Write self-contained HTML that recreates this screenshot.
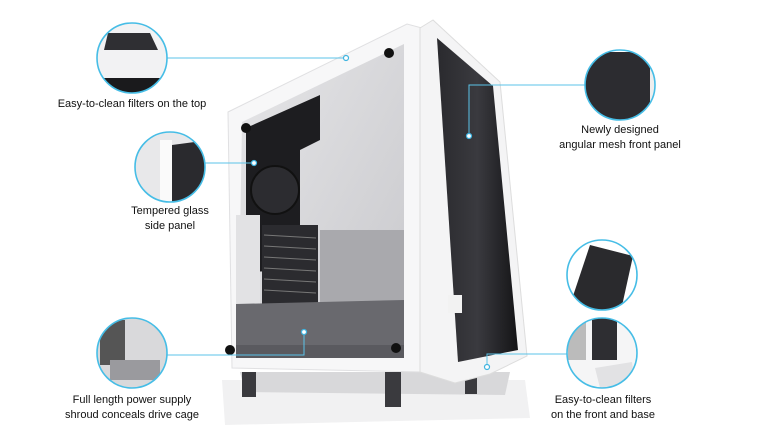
<!DOCTYPE html>
<html><head><meta charset="utf-8"><style>
html,body{margin:0;padding:0;background:#fff;}
body{width:778px;height:434px;overflow:hidden;position:relative;font-family:"Liberation Sans",Arial,sans-serif;}
.t{position:absolute;font-size:11px;color:#111;text-align:center;line-height:15px;white-space:nowrap;transform:translateX(-50%);}
svg{position:absolute;left:0;top:0;}
</style></head><body>
<svg width="778" height="434" viewBox="0 0 778 434">
<defs>
<linearGradient id="gl" x1="0" y1="0" x2="1" y2="1">
<stop offset="0" stop-color="#e6e6e8"/><stop offset="1" stop-color="#c8c8cc"/></linearGradient>
<linearGradient id="fr" x1="0" y1="0" x2="1" y2="0">
<stop offset="0" stop-color="#2a2a2e"/><stop offset="0.5" stop-color="#3a3a3f"/><stop offset="1" stop-color="#141416"/></linearGradient>
<clipPath id="c1"><circle cx="132" cy="58" r="35"/></clipPath>
<clipPath id="c2"><circle cx="170" cy="167" r="35"/></clipPath>
<clipPath id="c3"><circle cx="132" cy="353" r="35"/></clipPath>
<clipPath id="c4"><circle cx="620" cy="85" r="35"/></clipPath>
<clipPath id="c5"><circle cx="602" cy="275" r="35"/></clipPath>
<clipPath id="c6"><circle cx="602" cy="353" r="35"/></clipPath>
</defs>
<!-- base -->
<polygon points="222,380 525,380 530,418 225,425" fill="#f1f1f2"/>
<polygon points="240,372 510,372 505,395 245,392" fill="#d8d8da"/>
<rect x="242" y="372" width="14" height="25" fill="#3a3a3e"/>
<rect x="385" y="372" width="16" height="35" fill="#3a3a3e"/>
<rect x="465" y="372" width="12" height="22" fill="#3a3a3e"/>
<!-- side frame -->
<polygon points="228,112 407,24 422,28 422,372 232,368" fill="#f7f7f8" stroke="#e0e0e2"/>
<!-- glass interior -->
<polygon points="242,122 404,44 404,356 238,358" fill="url(#gl)"/>
<polygon points="246,128 320,95 320,140 300,150 300,270 246,272" fill="#1d1d20"/>
<circle cx="275" cy="190" r="24" fill="#2c2c30" stroke="#111" stroke-width="2"/>
<rect x="236" y="215" width="24" height="90" fill="#e2e2e4"/>
<rect x="262" y="225" width="56" height="82" fill="#2b2b2f"/>
<g stroke="#777" stroke-width="1"><line x1="264" y1="235" x2="316" y2="238"/><line x1="264" y1="246" x2="316" y2="249"/><line x1="264" y1="257" x2="316" y2="260"/><line x1="264" y1="268" x2="316" y2="271"/><line x1="264" y1="279" x2="316" y2="282"/><line x1="264" y1="290" x2="316" y2="293"/></g>
<rect x="320" y="230" width="84" height="75" fill="#a9a9ad"/>
<polygon points="236,304 404,300 404,345 385,345 378,356 250,356 236,345" fill="#69696e"/>
<polygon points="236,345 404,345 404,358 236,358" fill="#5a5a5f"/>
<circle cx="246" cy="128" r="5" fill="#111"/><circle cx="389" cy="53" r="5" fill="#111"/>
<circle cx="230" cy="350" r="5" fill="#111"/><circle cx="396" cy="348" r="5" fill="#111"/>
<!-- front -->
<polygon points="420,28 433,20 500,82 527,356 490,374 455,383 420,372" fill="#f4f4f5" stroke="#ddd"/>
<polygon points="437,38 493,86 518,350 458,362" fill="url(#fr)"/>
<rect x="448" y="295" width="14" height="18" fill="#f2f2f2"/>
<!-- connectors -->
<g stroke="#5bc3e8" stroke-width="1" fill="none">
<polyline points="167,58 346,58"/>
<polyline points="205,163 254,163"/>
<polyline points="167,355 304,355 304,332"/>
<polyline points="585,85 469,85 469,136"/>
<polyline points="567,354 487,354 487,367"/>
</g>
<g fill="#fff" stroke="#3fb4e0" stroke-width="1.2">
<circle cx="346" cy="58" r="2.5"/><circle cx="254" cy="163" r="2.5"/><circle cx="304" cy="332" r="2.5"/><circle cx="469" cy="136" r="2.5"/><circle cx="487" cy="367" r="2.5"/>
</g>
<!-- detail circles -->
<g clip-path="url(#c1)"><rect x="90" y="20" width="90" height="80" fill="#f2f2f3"/><polygon points="108,33 150,33 158,50 104,50" fill="#2f2f33"/><rect x="90" y="78" width="90" height="20" fill="#1a1a1c"/></g>
<g clip-path="url(#c2)"><rect x="130" y="130" width="80" height="80" fill="#e8e8ea"/><polygon points="172,145 210,140 210,210 172,210" fill="#2a2a2e"/><rect x="160" y="140" width="12" height="70" fill="#fafafa"/></g>
<g clip-path="url(#c3)"><rect x="95" y="315" width="80" height="80" fill="#d9d9db"/><rect x="100" y="320" width="25" height="45" fill="#555"/><rect x="110" y="360" width="50" height="20" fill="#9a9a9e"/></g>
<g clip-path="url(#c4)"><rect x="580" y="45" width="80" height="80" fill="#ffffff"/><polygon points="585,52 650,52 650,125 585,125" fill="#2c2c30"/><rect x="650" y="50" width="6" height="75" fill="#eee"/></g>
<g clip-path="url(#c5)"><rect x="565" y="238" width="80" height="80" fill="#fff"/><polygon points="590,245 633,256 620,315 570,305" fill="#2a2a2d"/></g>
<g clip-path="url(#c6)"><rect x="565" y="315" width="80" height="80" fill="#f5f5f6"/><rect x="592" y="318" width="25" height="42" fill="#2e2e32"/><rect x="568" y="320" width="18" height="40" fill="#bbb"/><polygon points="595,368 632,362 635,385 600,388" fill="#e2e2e4"/></g>
<g fill="none" stroke="#46bde6" stroke-width="1.6">
<circle cx="132" cy="58" r="35"/><circle cx="170" cy="167" r="35"/><circle cx="132" cy="353" r="35"/>
<circle cx="620" cy="85" r="35"/><circle cx="602" cy="275" r="35"/><circle cx="602" cy="353" r="35"/>
</g>
</svg>
<div class="t" style="left:132px;top:97px;">Easy-to-clean filters on the top</div>
<div class="t" style="left:170px;top:204px;">Tempered glass<br>side panel</div>
<div class="t" style="left:132px;top:393px;">Full length power supply<br>shroud conceals drive cage</div>
<div class="t" style="left:620px;top:123px;">Newly designed<br>angular mesh front panel</div>
<div class="t" style="left:603px;top:393px;">Easy-to-clean filters<br>on the front and base</div>
</body></html>
